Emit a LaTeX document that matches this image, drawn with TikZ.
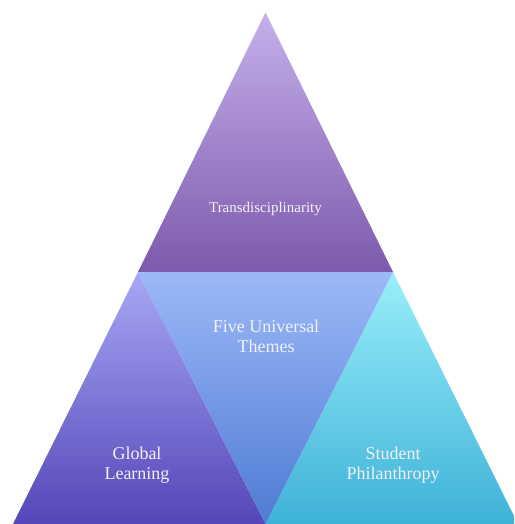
\documentclass[tikz,border=0pt]{standalone}
\usepackage{fontspec}
\setmainfont{Liberation Serif}
\definecolor{topA}{HTML}{C6B0EA}
\definecolor{topB}{HTML}{7C5AAD}
\definecolor{midA}{HTML}{9CB9F8}
\definecolor{midB}{HTML}{4E7BD2}
\definecolor{leftA}{HTML}{A8A8F4}
\definecolor{leftB}{HTML}{5446B8}
\definecolor{rightA}{HTML}{9AEEFA}
\definecolor{rightB}{HTML}{3EB2D8}
\definecolor{txt}{HTML}{F2F0FA}
\tikzset{
  lbl/.style={text=txt, align=center, inner sep=0pt},
  bigf/.style={font=\fontsize{18}{20}\selectfont},
  smallf/.style={font=\fontsize{15}{17}\selectfont}
}
\begin{document}
\begin{tikzpicture}[x=1pt,y=-1pt]
\useasboundingbox (0,0) rectangle (514,524);
\clip (0,0) rectangle (514,524);
\coordinate (A) at (265.5,12.5);
\coordinate (L) at (138,272);
\coordinate (R) at (393,272);
\coordinate (BL) at (13,524);
\coordinate (BM) at (265.5,524);
\coordinate (BR) at (518,524);
\shade[top color=topA, bottom color=topB] (A) -- (L) -- (R) -- cycle;
\shade[top color=leftA, bottom color=leftB] (L) -- (BL) -- (BM) -- cycle;
\shade[top color=rightA, bottom color=rightB] (R) -- (BM) -- (BR) -- cycle;
\shade[top color=midA, bottom color=midB] (L) -- (R) -- (BM) -- cycle;
\node[lbl, smallf] (t) at (265.5,209) {Transdisciplinarity};
\node[lbl, bigf] (m) at (266,336) {Five Universal\\Themes};
\node[lbl, bigf] (g) at (137,465) {Global\\Learning};
\node[lbl, bigf] (s) at (393,465) {Student\\Philanthropy};
\end{tikzpicture}
\end{document}
